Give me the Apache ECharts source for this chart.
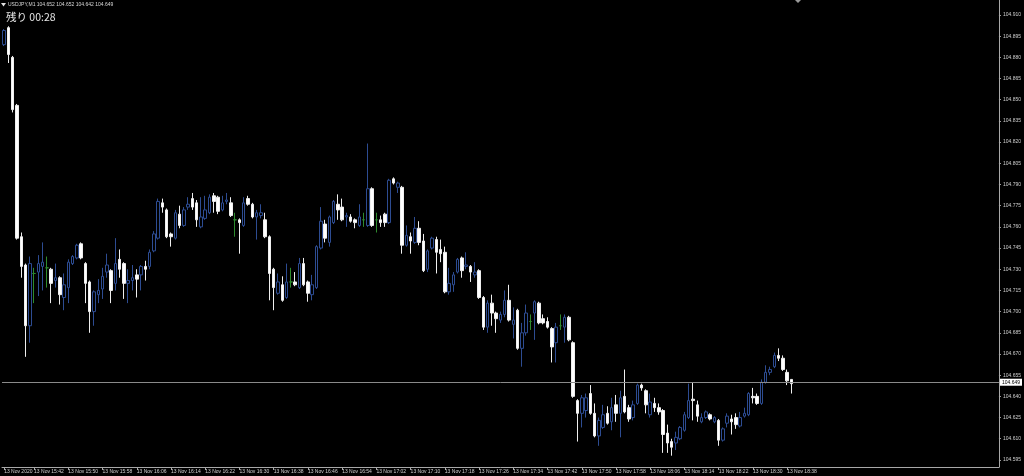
<!DOCTYPE html>
<html><head><meta charset="utf-8">
<script src="https://cdn.jsdelivr.net/npm/echarts@6/dist/echarts.min.js"></script>
<style>html,body{margin:0;padding:0;background:#000;}#c{width:1024px;height:476px;}</style>
</head><body><div id="c"></div>
<script>
const symbolTitle = 'USDJPY,M1 104.652 104.652 104.642 104.649';
const timerText = '残り 00:28';
const lastPrice = 104.649;
const firstLabel = '13 Nov 2020';
const labelDay = '13 Nov ';
const xTickTimes = ['15:42','15:50','15:58','16:06','16:14','16:22','16:30','16:38','16:46','16:54','17:02','17:10','17:18','17:26','17:34','17:42','17:50','17:58','18:06','18:14','18:22','18:30','18:38'];
const yTicks = [104.910,104.895,104.880,104.865,104.850,104.835,104.820,104.805,104.790,104.775,104.760,104.745,104.730,104.715,104.700,104.685,104.670,104.655,104.640,104.625,104.610,104.595];

// minute bars 15:35 .. 18:39, plus empty future slots (chart shift)
const times = [];
for (let m = 15*60+35; m < 15*60+35+233; m++) {
  const h = Math.floor(m/60), mm = m%60;
  times.push((h<10?'0':'')+h+':'+(mm<10?'0':'')+mm);
}

const opens = [
104.889,104.901,104.880,104.846,104.753,104.733,104.690,104.727,104.728,104.732,
104.731,104.730,104.722,104.724,104.710,104.717,104.734,104.738,104.748,104.734,
104.721,104.700,104.712,104.716,104.728,104.729,104.720,104.737,104.734,104.720,
104.722,104.726,104.726,104.732,104.732,104.743,104.752,104.777,104.772,104.755,
104.752,104.769,104.761,104.774,104.780,104.777,104.760,104.766,104.770,104.782,
104.781,104.772,104.778,104.777,104.765,104.765,104.761,104.780,104.776,104.767,
104.768,104.765,104.753,104.730,104.713,104.719,104.710,104.721,104.721,104.717,
104.734,104.721,104.712,104.717,104.745,104.762,104.749,104.763,104.776,104.774,
104.767,104.767,104.765,104.761,104.765,104.761,104.787,104.765,104.765,104.769,
104.763,104.794,104.788,104.788,104.747,104.753,104.749,104.759,104.750,104.730,
104.745,104.751,104.744,104.742,104.714,104.719,104.728,104.738,104.732,104.732,
104.726,104.729,104.710,104.689,104.706,104.699,104.694,104.698,104.708,104.691,
104.701,104.674,104.685,104.693,104.699,104.706,104.695,104.693,104.688,104.678,
104.690,104.689,104.696,104.678,104.637,104.628,104.630,104.642,104.628,104.612,
104.618,104.628,104.622,104.634,104.628,104.640,104.632,104.625,104.635,104.648,
104.644,104.627,104.635,104.632,104.630,104.614,104.608,104.607,104.610,104.616,
104.625,104.638,104.634,104.622,104.625,104.627,104.622,104.623,104.609,104.621,
104.624,104.625,104.619,104.626,104.627,104.640,104.640,104.635,104.650,104.657,
104.661,104.669,104.667,104.657,104.652];
const closes = [
104.899,104.882,104.843,104.752,104.732,104.690,104.734,104.727,104.734,104.735,
104.731,104.720,104.724,104.712,104.719,104.735,104.739,104.747,104.738,104.720,
104.700,104.714,104.715,104.725,104.733,104.715,104.734,104.730,104.720,104.722,
104.724,104.723,104.732,104.730,104.742,104.755,104.778,104.774,104.753,104.753,
104.770,104.761,104.772,104.776,104.774,104.765,104.767,104.772,104.781,104.778,
104.771,104.777,104.779,104.768,104.765,104.763,104.777,104.776,104.767,104.770,
104.770,104.753,104.727,104.717,104.721,104.708,104.721,104.721,104.719,104.734,
104.719,104.713,104.719,104.746,104.764,104.752,104.767,104.778,104.772,104.765,
104.768,104.764,104.763,104.767,104.765,104.787,104.761,104.765,104.763,104.763,
104.793,104.791,104.791,104.747,104.754,104.750,104.759,104.749,104.729,104.743,
104.752,104.742,104.741,104.714,104.720,104.726,104.737,104.729,104.733,104.728,
104.728,104.710,104.689,104.706,104.699,104.695,104.698,104.708,104.694,104.694,
104.674,104.685,104.699,104.693,104.707,104.692,104.692,104.689,104.675,104.689,
104.690,104.696,104.680,104.640,104.628,104.639,104.639,104.628,104.612,104.623,
104.627,104.621,104.632,104.628,104.639,104.629,104.624,104.634,104.648,104.646,
104.634,104.636,104.632,104.629,104.613,104.607,104.604,104.611,104.618,104.627,
104.637,104.637,104.626,104.625,104.629,104.624,104.625,104.609,104.617,104.626,
104.622,104.620,104.625,104.628,104.642,104.639,104.635,104.650,104.657,104.659,
104.669,104.667,104.659,104.651,104.649];
const lows = [
104.888,104.876,104.841,104.751,104.724,104.668,104.678,104.706,104.711,104.715,
104.717,104.706,104.717,104.705,104.701,104.706,104.733,104.737,104.737,104.706,
104.685,104.690,104.706,104.709,104.724,104.706,104.715,104.724,104.709,104.706,
104.715,104.710,104.715,104.722,104.730,104.742,104.751,104.770,104.752,104.746,
104.751,104.759,104.760,104.772,104.772,104.760,104.759,104.765,104.769,104.770,
104.769,104.771,104.776,104.767,104.753,104.741,104.760,104.775,104.766,104.751,
104.766,104.752,104.708,104.701,104.712,104.707,104.709,104.717,104.718,104.716,
104.718,104.707,104.708,104.716,104.744,104.749,104.746,104.762,104.765,104.764,
104.760,104.763,104.759,104.760,104.760,104.760,104.760,104.756,104.760,104.760,
104.762,104.790,104.784,104.741,104.746,104.741,104.748,104.747,104.728,104.728,
104.744,104.727,104.735,104.713,104.712,104.714,104.727,104.724,104.730,104.721,
104.724,104.709,104.687,104.685,104.690,104.685,104.692,104.696,104.693,104.681,
104.673,104.661,104.683,104.687,104.680,104.691,104.691,104.688,104.664,104.664,
104.687,104.678,104.679,104.639,104.608,104.618,104.625,104.627,104.611,104.605,
104.617,104.620,104.616,104.622,104.611,104.628,104.622,104.623,104.634,104.644,
104.628,104.625,104.629,104.627,104.600,104.600,104.598,104.602,104.609,104.615,
104.624,104.623,104.622,104.621,104.624,104.623,104.621,104.605,104.608,104.618,
104.613,104.617,104.618,104.625,104.626,104.635,104.634,104.634,104.649,104.655,
104.660,104.665,104.658,104.648,104.642];
const highs = [
104.900,104.902,104.881,104.847,104.756,104.734,104.739,104.731,104.740,104.749,
104.739,104.731,104.734,104.725,104.727,104.737,104.740,104.748,104.749,104.735,
104.722,104.715,104.723,104.731,104.741,104.730,104.752,104.744,104.735,104.730,
104.733,104.730,104.733,104.736,104.744,104.757,104.780,104.780,104.773,104.756,
104.772,104.775,104.774,104.781,104.784,104.779,104.781,104.782,104.783,104.784,
104.782,104.782,104.784,104.781,104.770,104.766,104.781,104.782,104.777,104.772,
104.776,104.770,104.754,104.731,104.727,104.725,104.734,104.731,104.728,104.738,
104.738,104.722,104.726,104.747,104.774,104.765,104.768,104.779,104.783,104.780,
104.770,104.769,104.766,104.776,104.770,104.819,104.788,104.770,104.768,104.770,
104.794,104.795,104.792,104.789,104.761,104.756,104.767,104.764,104.755,104.744,
104.753,104.753,104.751,104.746,104.731,104.728,104.738,104.739,104.742,104.733,
104.735,104.730,104.711,104.708,104.712,104.700,104.700,104.715,104.719,104.703,
104.702,104.692,104.705,104.698,104.708,104.707,104.698,104.696,104.689,104.692,
104.698,104.698,104.697,104.679,104.638,104.641,104.642,104.648,104.635,104.625,
104.634,104.633,104.639,104.641,104.644,104.659,104.634,104.637,104.649,104.649,
104.645,104.642,104.639,104.635,104.631,104.620,104.610,104.615,104.619,104.629,
104.649,104.650,104.637,104.628,104.630,104.628,104.626,104.624,104.618,104.628,
104.627,104.628,104.629,104.632,104.643,104.646,104.642,104.652,104.662,104.661,
104.671,104.674,104.669,104.659,104.652];

const candles = opens.map((o, i) => [o, closes[i], lows[i], highs[i]]);

function isTickIdx(i) {
  return i === 0 || xTickTimes.indexOf(times[i]) >= 0 && i < opens.length;
}

const chart = echarts.init(document.getElementById('c'), null, {renderer: 'canvas'});
chart.setOption({
  animation: false,
  backgroundColor: '#000000',
  grid: {left: 2, right: 25, top: 0, bottom: 9},
  xAxis: {
    type: 'category', data: times, boundaryGap: true,
    axisLine: {show: true, lineStyle: {color: '#a8a8a8', width: 1}},
    axisTick: {show: true, length: 3, alignWithLabel: true, interval: (i) => isTickIdx(i), lineStyle: {color: '#a8a8a8'}},
    axisLabel: {
      interval: (i) => isTickIdx(i),
      formatter: (v, i) => i === 0 ? firstLabel : labelDay + v,
      color: '#cfcfcf', fontSize: 5, fontFamily: 'Liberation Sans', align: 'left', margin: 2
    },
    splitLine: {show: false}
  },
  yAxis: {
    type: 'value', position: 'right', min: 104.590, max: 104.9206, scale: true,
    axisLine: {show: true, lineStyle: {color: '#a8a8a8', width: 1}},
    axisTick: {show: true, length: 2, customValues: yTicks, lineStyle: {color: '#a8a8a8'}},
    axisLabel: {customValues: yTicks, formatter: (v) => v.toFixed(3), color: '#cfcfcf', fontSize: 5, fontFamily: 'Liberation Sans', margin: 4},
    splitLine: {show: false}
  },
  series: [{
    type: 'candlestick', data: candles, barWidth: 3,
    itemStyle: {color: '#000000', color0: '#ffffff', borderColor: '#2d4c92', borderColor0: '#eeeeee', borderColorDoji: '#2e8b2e', borderWidth: 1},
    markLine: {
      silent: true, symbol: 'none', animation: false,
      data: [{yAxis: lastPrice}],
      lineStyle: {color: '#8a8a8a', type: 'solid', width: 1},
      label: {show: true, position: 'end', formatter: lastPrice.toFixed(3), backgroundColor: '#ffffff', color: '#000000', fontSize: 5, fontFamily: 'Liberation Sans', padding: [1, 2], distance: 1}
    }
  }],
  graphic: [
    {type: 'polygon', shape: {points: [[1, 3], [6, 3], [3.5, 6.5]]}, style: {fill: '#e0e0e0'}},
    {type: 'text', x: 8, y: 4.7, style: {text: symbolTitle, fill: '#d8d8d8', font: '5px "Liberation Sans"', verticalAlign: 'middle'}},
    {type: 'text', x: 6, y: 17, style: {text: timerText, fill: '#e6e6e6', font: '10.5px "Noto Sans CJK JP"', verticalAlign: 'middle'}},
    {type: 'polygon', shape: {points: [[795, 0], [801, 0], [798, 3]]}, style: {fill: '#9a9a9a'}}
  ]
});
</script></body></html>
